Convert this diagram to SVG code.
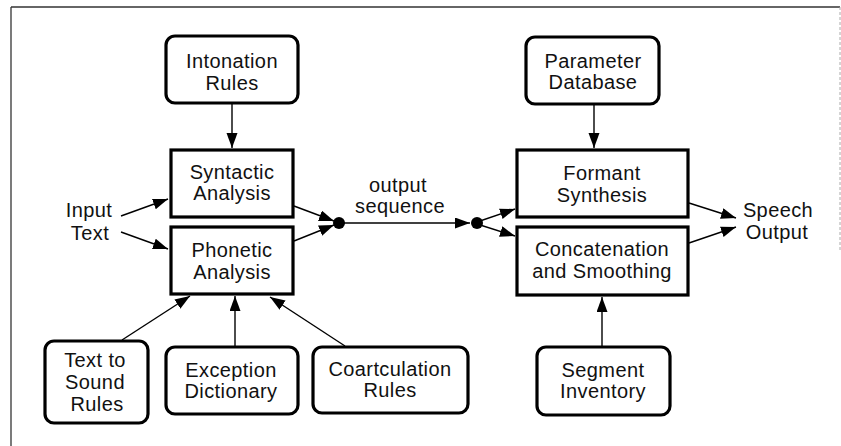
<svg xmlns="http://www.w3.org/2000/svg" width="841" height="446" viewBox="0 0 841 446">
<defs>
<style>
.box{fill:#fff;stroke:#000;stroke-width:3.2}
.t{font-family:"Liberation Sans",Arial,Helvetica,sans-serif;font-size:20px;letter-spacing:0.4px;fill:#111;text-anchor:middle}
.c{fill:none;stroke:#000;stroke-width:1.4}
</style>
<marker id="ah" markerUnits="userSpaceOnUse" markerWidth="16" markerHeight="12" refX="15" refY="5.5" orient="auto">
<path d="M0,0 L15,5.5 L0,11 z" fill="#000"/>
</marker>
</defs>
<rect width="841" height="446" fill="#fff"/>
<g id="frame">
<line x1="11" y1="7" x2="840" y2="7" stroke="#333" stroke-width="1.3"/>
<line x1="11" y1="7" x2="11" y2="446" stroke="#333" stroke-width="1.3"/>
<line x1="840" y1="7" x2="840" y2="250" stroke="#aaa" stroke-width="1" stroke-dasharray="3,2"/>
</g>
<g id="connectors">
<line class="c" x1="232" y1="104" x2="232" y2="148" marker-end="url(#ah)"/>
<line class="c" x1="594" y1="105" x2="594" y2="148" marker-end="url(#ah)"/>
<line class="c" x1="121" y1="216" x2="168" y2="199" marker-end="url(#ah)"/>
<line class="c" x1="121" y1="232" x2="168" y2="249" marker-end="url(#ah)"/>
<line class="c" x1="294" y1="206" x2="334" y2="221" marker-end="url(#ah)"/>
<line class="c" x1="294" y1="241" x2="334" y2="225" marker-end="url(#ah)"/>
<line class="c" x1="339" y1="223" x2="470" y2="223" marker-end="url(#ah)"/>
<line class="c" x1="477" y1="222" x2="515" y2="209" marker-end="url(#ah)"/>
<line class="c" x1="477" y1="224" x2="515" y2="236" marker-end="url(#ah)"/>
<line class="c" x1="689" y1="203" x2="736" y2="218" marker-end="url(#ah)"/>
<line class="c" x1="689" y1="243" x2="736" y2="227" marker-end="url(#ah)"/>
<line class="c" x1="122" y1="340" x2="190" y2="296" marker-end="url(#ah)"/>
<line class="c" x1="235" y1="346" x2="235" y2="296" marker-end="url(#ah)"/>
<line class="c" x1="345" y1="346" x2="270" y2="297" marker-end="url(#ah)"/>
<line class="c" x1="602" y1="346" x2="602" y2="297" marker-end="url(#ah)"/>
<circle cx="339" cy="223" r="6" fill="#000"/>
<circle cx="477" cy="223" r="6" fill="#000"/>
</g>
<g id="intonation">
<rect class="box" x="166" y="36" width="132" height="67" rx="9"/>
<text class="t" x="232" y="68">Intonation</text>
<text class="t" x="232" y="90">Rules</text>
</g>
<g id="parameter">
<rect class="box" x="526" y="37" width="133" height="67" rx="9"/>
<text class="t" x="593" y="68">Parameter</text>
<text class="t" x="593" y="89">Database</text>
</g>
<g id="syntactic">
<rect class="box" x="171" y="150" width="122" height="67"/>
<text class="t" x="232" y="179">Syntactic</text>
<text class="t" x="232" y="200">Analysis</text>
</g>
<g id="phonetic">
<rect class="box" x="171" y="227" width="122" height="67"/>
<text class="t" x="232" y="257">Phonetic</text>
<text class="t" x="232" y="279">Analysis</text>
</g>
<g id="formant">
<rect class="box" x="517" y="150" width="171" height="67"/>
<text class="t" x="602" y="180">Formant</text>
<text class="t" x="602" y="202">Synthesis</text>
</g>
<g id="concatenation">
<rect class="box" x="517" y="227" width="171" height="68"/>
<text class="t" x="602" y="256">Concatenation</text>
<text class="t" x="602" y="278">and Smoothing</text>
</g>
<g id="texttosound">
<rect class="box" x="45" y="341" width="103" height="82" rx="9"/>
<text class="t" x="95" y="367">Text to</text>
<text class="t" x="95" y="389">Sound</text>
<text class="t" x="97" y="411">Rules</text>
</g>
<g id="exception">
<rect class="box" x="166" y="347" width="132" height="67" rx="9"/>
<text class="t" x="231" y="377">Exception</text>
<text class="t" x="231" y="398">Dictionary</text>
</g>
<g id="coartculation">
<rect class="box" x="313" y="347" width="155" height="66" rx="9"/>
<text class="t" x="390" y="376">Coartculation</text>
<text class="t" x="390" y="397">Rules</text>
</g>
<g id="segment">
<rect class="box" x="537" y="347" width="133" height="68" rx="9"/>
<text class="t" x="603" y="377">Segment</text>
<text class="t" x="603" y="398">Inventory</text>
</g>
<g id="labels">
<text class="t" x="89" y="217">Input</text>
<text class="t" x="90" y="240">Text</text>
<text class="t" x="398" y="192">output</text>
<text class="t" x="400" y="213">sequence</text>
<text class="t" x="778" y="217">Speech</text>
<text class="t" x="777" y="239">Output</text>
</g>
</svg>
